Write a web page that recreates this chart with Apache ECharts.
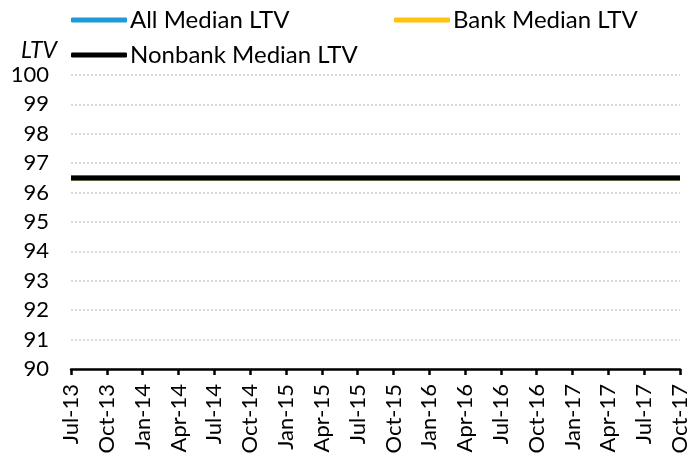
<!DOCTYPE html>
<html>
<head>
<meta charset="utf-8">
<script src="https://cdn.jsdelivr.net/npm/echarts@6/dist/echarts.min.js"></script>
<style>
  html, body { margin: 0; padding: 0; background: #fff; }
  #ltvChart { width: 693px; height: 458px; }
</style>
</head>
<body>
<div id="ltvChart"></div>
<script>
/* monthly categories, Jul-13 .. Oct-17 */
var months = [
  'Jul-13', 'Aug-13', 'Sep-13', 'Oct-13', 'Nov-13', 'Dec-13',
  'Jan-14', 'Feb-14', 'Mar-14', 'Apr-14', 'May-14', 'Jun-14', 'Jul-14', 'Aug-14', 'Sep-14', 'Oct-14', 'Nov-14', 'Dec-14',
  'Jan-15', 'Feb-15', 'Mar-15', 'Apr-15', 'May-15', 'Jun-15', 'Jul-15', 'Aug-15', 'Sep-15', 'Oct-15', 'Nov-15', 'Dec-15',
  'Jan-16', 'Feb-16', 'Mar-16', 'Apr-16', 'May-16', 'Jun-16', 'Jul-16', 'Aug-16', 'Sep-16', 'Oct-16', 'Nov-16', 'Dec-16',
  'Jan-17', 'Feb-17', 'Mar-17', 'Apr-17', 'May-17', 'Jun-17', 'Jul-17', 'Aug-17', 'Sep-17', 'Oct-17'
];

var allMedian = [
  96.5, 96.5, 96.5, 96.5, 96.5, 96.5,
  96.5, 96.5, 96.5, 96.5, 96.5, 96.5, 96.5, 96.5, 96.5, 96.5, 96.5, 96.5,
  96.5, 96.5, 96.5, 96.5, 96.5, 96.5, 96.5, 96.5, 96.5, 96.5, 96.5, 96.5,
  96.5, 96.5, 96.5, 96.5, 96.5, 96.5, 96.5, 96.5, 96.5, 96.5, 96.5, 96.5,
  96.5, 96.5, 96.5, 96.5, 96.5, 96.5, 96.5, 96.5, 96.5, 96.5
];
var bankMedian = [
  96.5, 96.5, 96.5, 96.5, 96.5, 96.5,
  96.5, 96.5, 96.5, 96.5, 96.5, 96.5, 96.5, 96.5, 96.5, 96.5, 96.5, 96.5,
  96.5, 96.5, 96.5, 96.5, 96.5, 96.5, 96.5, 96.5, 96.5, 96.5, 96.5, 96.5,
  96.5, 96.5, 96.5, 96.5, 96.5, 96.5, 96.5, 96.5, 96.5, 96.5, 96.5, 96.5,
  96.5, 96.5, 96.5, 96.5, 96.5, 96.5, 96.5, 96.5, 96.5, 96.5
];
var nonbankMedian = [
  96.5, 96.5, 96.5, 96.5, 96.5, 96.5,
  96.5, 96.5, 96.5, 96.5, 96.5, 96.5, 96.5, 96.5, 96.5, 96.5, 96.5, 96.5,
  96.5, 96.5, 96.5, 96.5, 96.5, 96.5, 96.5, 96.5, 96.5, 96.5, 96.5, 96.5,
  96.5, 96.5, 96.5, 96.5, 96.5, 96.5, 96.5, 96.5, 96.5, 96.5, 96.5, 96.5,
  96.5, 96.5, 96.5, 96.5, 96.5, 96.5, 96.5, 96.5, 96.5, 96.5
];

var fontName = 'Lato';

var chart = echarts.init(document.getElementById('ltvChart'));

function lineSeries(name, data, color) {
  return {
    name: name,
    type: 'line',
    data: data,
    symbol: 'none',
    animation: false,
    lineStyle: { color: color, width: 5 },
    itemStyle: { color: color }
  };
}

// one legend per entry so each sits where the original puts it
function legendAt(name, left, top) {
  return {
    data: [name],
    left: left,
    top: top,
    icon: 'roundRect',
    itemWidth: 56,
    itemHeight: 5,
    textStyle: { fontFamily: fontName, fontSize: 24, color: '#000', padding: [0, 0, 0, -2] }
  };
}

var option = {
  textStyle: { fontFamily: fontName },
  title: {
    text: 'LTV',
    left: 16,
    top: 34,
    textStyle: { fontFamily: fontName, fontSize: 23, fontStyle: 'italic', fontWeight: 'normal', color: '#000' }
  },
  legend: [
    legendAt('All Median LTV', 66, 3),
    legendAt('Bank Median LTV', 389, 3),
    legendAt('Nonbank Median LTV', 66, 38)
  ],
  grid: {
    left: 71,
    right: 13,
    top: 75,
    bottom: 89,
    containLabel: false
  },
  xAxis: {
    type: 'category',
    data: months,
    boundaryGap: false,
    axisLine: { lineStyle: { color: '#000', width: 2.5 } },
    axisTick: { interval: 2, length: 6, lineStyle: { color: '#000', width: 2.5 } },
    axisLabel: { interval: 2, rotate: 90, margin: 15, fontSize: 22, color: '#000', fontFamily: fontName },
    splitLine: { show: false }
  },
  yAxis: {
    type: 'value',
    min: 90,
    max: 100,
    interval: 1,
    axisLine: { show: false },
    axisTick: { show: false },
    axisLabel: { margin: 22, fontSize: 22, color: '#000', fontFamily: fontName },
    splitLine: { lineStyle: { color: '#d9d9d9', width: 2, type: [2, 2] } }
  },
  series: [
    lineSeries('All Median LTV', allMedian, '#1f9ad8'),
    lineSeries('Bank Median LTV', bankMedian, '#ffc20e'),
    lineSeries('Nonbank Median LTV', nonbankMedian, '#000000')
  ]
};

chart.setOption(option);
</script>
</body>
</html>
